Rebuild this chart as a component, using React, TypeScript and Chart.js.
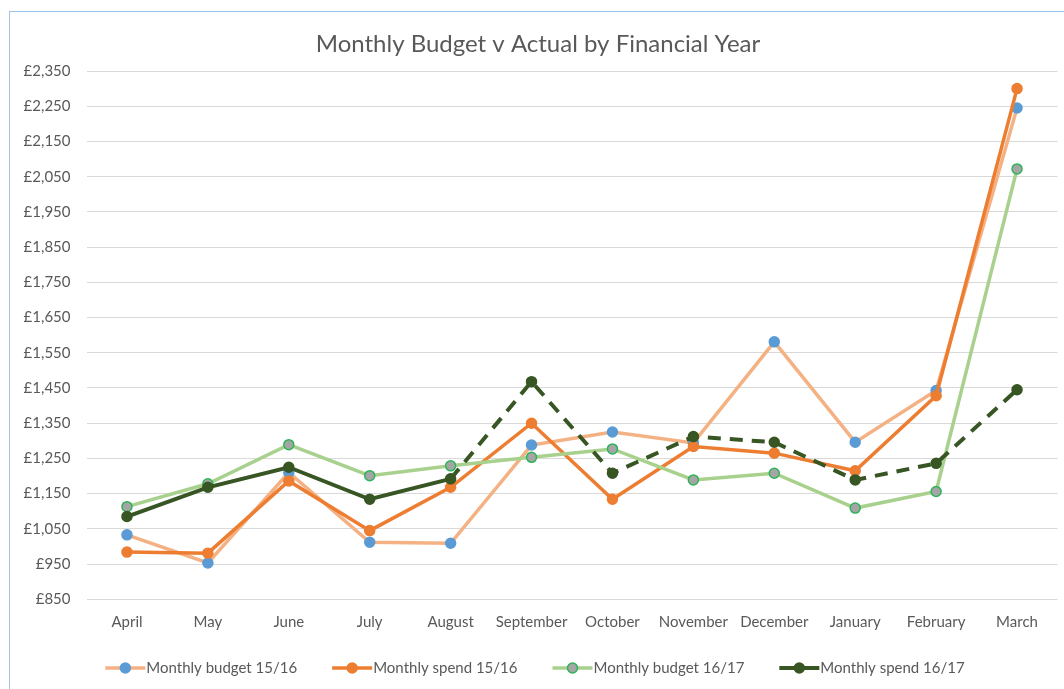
import React, { useEffect, useRef } from "react";
import { Chart, registerables } from "chart.js";

Chart.register(...registerables);

const months = ["April", "May", "June", "July", "August", "September", "October", "November", "December", "January", "February", "March"];
const budget1516 = [1033, 953, 1210, 1012, 1009, 1288, 1325, 1294, 1581, 1296, 1443, 2245];
const spend1516 = [984, 981, 1186, 1045, 1168, 1350, 1134, 1284, 1265, 1215, 1428, 2300];
const budget1617 = [1113, 1178, 1289, 1201, 1229, 1253, 1277, 1189, 1208, 1109, 1156, 2072];
const spend1617 = [1085, 1168, 1225, 1134, 1192, 1468, 1208, 1312, 1296, 1189, 1236, 1445];
const seriesLabels = ["Monthly budget 15/16", "Monthly spend 15/16", "Monthly budget 16/17", "Monthly spend 16/17"];
const yMin = 850;
const yMax = 2350;
const yStep = 100;
const titleText = "Monthly Budget v Actual by Financial Year";

const FONT_FAMILY = "Lato, 'Open Sans', sans-serif";
const TEXT_COLOR = "#595959";

const excelDecor = {
  id: "excelDecor",
  afterDraw(chart: any) {
    const ctx = chart.ctx as CanvasRenderingContext2D;
    ctx.save();
    // Title
    ctx.font = `24px ${FONT_FAMILY}`;
    ctx.fillStyle = TEXT_COLOR;
    ctx.textAlign = "center";
    ctx.textBaseline = "middle";
    ctx.fillText(titleText, 538, 44);

    // Legend
    ctx.font = `15px ${FONT_FAMILY}`;
    const datasets = chart.data.datasets;
    const lineLen = 40;
    const gap = 35;
    const widths = datasets.map((ds: any) => lineLen + 1 + ctx.measureText(ds.label).width);
    const total = widths.reduce((a: number, b: number) => a + b, 0) + gap * (datasets.length - 1);
    let x = 535 - total / 2;
    const y = 668;
    datasets.forEach((ds: any, i: number) => {
      ctx.strokeStyle = ds.borderColor;
      ctx.lineWidth = ds.borderWidth;
      ctx.setLineDash([]);
      ctx.lineCap = "butt";
      ctx.beginPath();
      ctx.moveTo(x, y);
      ctx.lineTo(x + lineLen, y);
      ctx.stroke();
      ctx.beginPath();
      ctx.arc(x + lineLen / 2, y, ds.pointRadius, 0, Math.PI * 2);
      ctx.fillStyle = ds.pointBackgroundColor;
      ctx.fill();
      ctx.lineWidth = ds.pointBorderWidth;
      ctx.strokeStyle = ds.pointBorderColor;
      ctx.stroke();
      ctx.fillStyle = TEXT_COLOR;
      ctx.textAlign = "left";
      ctx.textBaseline = "middle";
      ctx.fillText(ds.label, x + lineLen + 1, y);
      x += widths[i] + gap;
    });
    ctx.restore();
  },
};

export default function App() {
  const canvasRef = useRef<HTMLCanvasElement | null>(null);

  useEffect(() => {
    if (!canvasRef.current) return;
    const common = {
      borderWidth: 3.5,
      pointRadius: 5,
      pointHoverRadius: 5,
      pointBorderWidth: 1.5,
      tension: 0,
      fill: false,
    };
    const chart = new Chart(canvasRef.current, {
      type: "line",
      data: {
        labels: months,
        datasets: [
          {
            ...common,
            label: seriesLabels[0],
            data: budget1516,
            borderColor: "#F4B183",
            pointBackgroundColor: "#5B9BD5",
            pointBorderColor: "#5B9BD5",
            order: 4,
          },
          {
            ...common,
            label: seriesLabels[1],
            data: spend1516,
            borderColor: "#ED7D31",
            pointBackgroundColor: "#ED7D31",
            pointBorderColor: "#ED7D31",
            order: 3,
          },
          {
            ...common,
            label: seriesLabels[2],
            data: budget1617,
            borderColor: "#A9D18E",
            pointBackgroundColor: "#A5A5A5",
            pointBorderColor: "#2DB45A",
            order: 2,
          },
          {
            ...common,
            label: seriesLabels[3],
            data: spend1617,
            borderColor: "#375623",
            pointBackgroundColor: "#375623",
            pointBorderColor: "#375623",
            borderWidth: 4,
            order: 1,
            segment: {
              borderDash: (ctx: any) => (ctx.p0DataIndex >= 4 ? [13, 9] : undefined),
            },
          },
        ],
      },
      options: {
        responsive: false,
        animation: false,
        layout: { padding: { top: 71, right: 6.5, left: 0, bottom: 0 } },
        plugins: {
          legend: { display: false },
          title: { display: false },
          tooltip: { enabled: false },
        },
        scales: {
          x: {
            offset: true,
            grid: { display: false, drawTicks: false },
            border: { display: false },
            ticks: {
              color: TEXT_COLOR,
              font: { family: FONT_FAMILY, size: 15 },
              padding: 14,
              maxRotation: 0,
              autoSkip: false,
            },
            afterFit: (scale: any) => {
              scale.height = 89.7;
            },
          },
          y: {
            min: yMin,
            max: yMax,
            grid: { color: "#D9D9D9", lineWidth: 1, drawTicks: false },
            border: { display: false },
            ticks: {
              stepSize: yStep,
              color: TEXT_COLOR,
              font: { family: FONT_FAMILY, size: 15 },
              padding: 16,
              callback: (v: any) => "£" + Number(v).toLocaleString("en-GB"),
            },
            afterFit: (scale: any) => {
              scale.width = 86.5;
            },
          },
        },
      },
      plugins: [excelDecor],
    } as any);
    return () => chart.destroy();
  }, []);

  return (
    <div
      style={{
        position: "fixed",
        left: 0,
        top: 0,
        width: 1064,
        height: 689,
        background: "#fff",
        overflow: "hidden",
      }}
    >
      <div
        style={{
          position: "absolute",
          left: 9,
          top: 11,
          width: 1120,
          height: 720,
          border: "1.5px solid #9DC3E6",
        }}
      />
      <canvas
        ref={canvasRef}
        width={1064}
        height={689}
        style={{ position: "absolute", left: 0, top: 0, display: "block" }}
      />
    </div>
  );
}
